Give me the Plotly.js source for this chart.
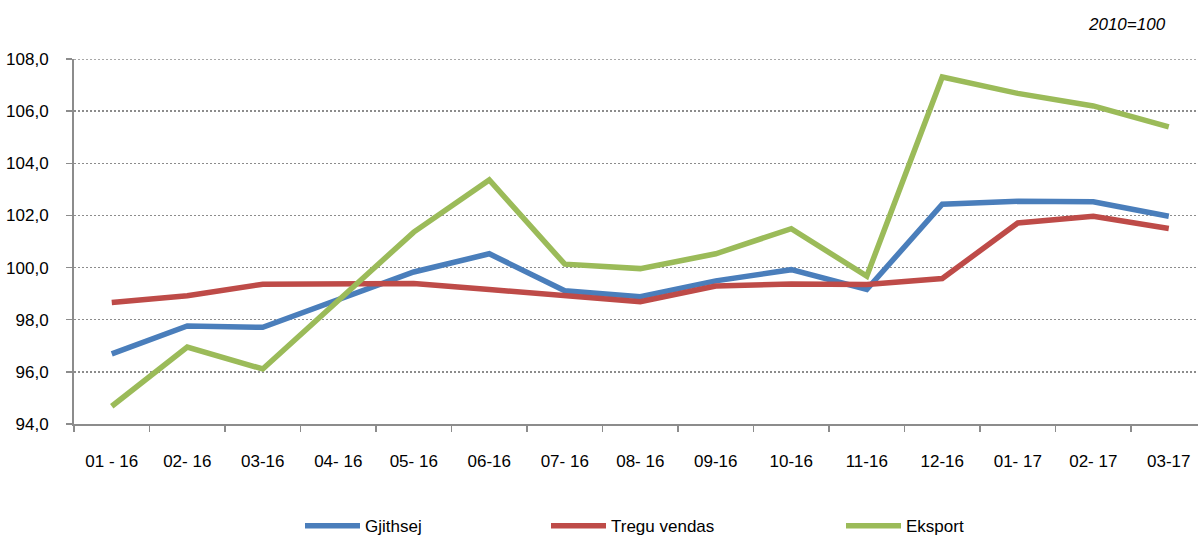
<!DOCTYPE html>
<html>
<head>
<meta charset="utf-8">
<script src="https://cdn.plot.ly/plotly-3.0.1.min.js"></script>
<style>html,body{margin:0;padding:0;background:#fff;}#chart{width:1198px;height:537px;}</style>
</head>
<body>
<div id="chart"></div>
<script>
const categories = ["01 - 16","02- 16","03-16","04- 16","05- 16","06-16","07- 16","08- 16","09-16","10-16","11-16","12-16","01- 17","02- 17","03-17"];
const gjithsej = [96.69,97.76,97.71,98.78,99.83,100.53,99.11,98.88,99.49,99.92,99.16,102.43,102.54,102.52,101.97];
const treguVendas = [98.66,98.92,99.36,99.38,99.39,99.16,98.94,98.69,99.29,99.37,99.35,99.58,101.71,101.97,101.50];
const eksport = [94.68,96.95,96.11,98.75,101.36,103.36,100.13,99.96,100.53,101.49,99.67,107.31,106.68,106.20,105.40];
const yTicks = [94,96,98,100,102,104,106,108];
const yTickText = ["94,0","96,0","98,0","100,0","102,0","104,0","106,0","108,0"];
const seriesNames = ["Gjithsej","Tregu vendas","Eksport"];
const noteText = "2010=100";

const colors = ["#4A7EBB","#BE4B48","#9BBB59"];
const data = [gjithsej, treguVendas, eksport].map((vals,k)=>({
  type:"scatter", mode:"lines", x:categories, y:vals, name:seriesNames[k],
  line:{color:colors[k], width:5.5},
  legend: k===0 ? "legend" : ("legend"+(k+1)),
  hoverinfo:"skip"
}));

const legendBase = {orientation:"h", yanchor:"middle", xanchor:"left", y:-0.28,
  font:{family:"Liberation Sans, Arial, sans-serif", size:17, color:"#000"},
  bgcolor:"rgba(0,0,0,0)", itemwidth:55, borderwidth:0};

const yMax = yTicks[yTicks.length-1];

const layout = {
  width:1198, height:537,
  margin:{l:74, r:0, t:59, b:113, autoexpand:false},
  paper_bgcolor:"#fff", plot_bgcolor:"#fff",
  font:{family:"Liberation Sans, Arial, sans-serif", size:17, color:"#000"},
  showlegend:true,
  legend: Object.assign({}, legendBase, {x:(300-74)/1124}),
  legend2: Object.assign({}, legendBase, {x:(546-74)/1124}),
  legend3: Object.assign({}, legendBase, {x:(841-74)/1124}),
  xaxis:{
    type:"category", categoryorder:"array", categoryarray:categories,
    range:[-0.5, 14.387],
    tickson:"boundaries", ticks:"outside", ticklen:6, tickcolor:"#8c8c8c", tickwidth:1.5,
    showline:true, linecolor:"#8c8c8c", linewidth:2, showgrid:false, zeroline:false,
    ticklabelstandoff:21, tickfont:{size:17}, fixedrange:true
  },
  yaxis:{
    range:[94,108], tickmode:"array", tickvals:yTicks, ticktext:yTickText,
    ticks:"outside", ticklen:6, tickcolor:"#8c8c8c", tickwidth:1.5,
    showline:true, linecolor:"#8c8c8c", linewidth:2,
    showgrid:true, gridcolor:"#8c8c8c", gridwidth:1.3, griddash:"2px,2px", zeroline:false,
    ticklabelstandoff:14, tickfont:{size:17}, fixedrange:true
  },
  shapes:[{type:"line", xref:"paper", x0:0, x1:1, yref:"y", y0:yMax, y1:yMax, layer:"below",
    line:{color:"#8c8c8c", width:1.3, dash:"2px,2px"}}],
  annotations:[{xref:"paper", yref:"paper", x:(1168-74)/1124, y:1+(59-24)/365, xanchor:"right", yanchor:"middle",
    text:"<i>"+noteText+"</i>", showarrow:false, font:{size:17, color:"#000"}}]
};

Plotly.newPlot("chart", data, layout, {displayModeBar:false, staticPlot:true});
</script>
</body>
</html>
